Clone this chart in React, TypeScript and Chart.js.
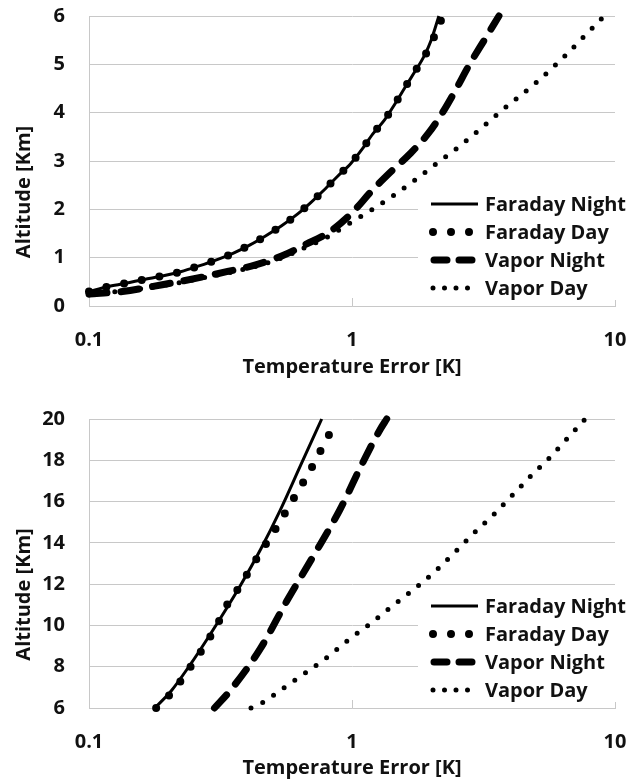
import React, { useEffect, useRef } from 'react';
import { Chart, registerables } from 'chart.js';

Chart.register(...registerables);

const FONT = "'Open Sans', 'DejaVu Sans', sans-serif";
const GRID = '#c8c8c8';
const CLEAR = 'rgba(0,0,0,0)';

const seriesNames = ['Faraday Night', 'Faraday Day', 'Vapor Night', 'Vapor Day'];
const xTickValues = [0.1, 1, 10];
const xTickLabels = ['0.1', '1', '10'];
const xTitle = 'Temperature Error [K]';
const yTitle = 'Altitude [Km]';

// ---- Top panel (0 - 6 km) ----
const topFaradayNightErr = [0.1, 0.1174, 0.138, 0.162, 0.19, 0.223, 0.262, 0.3035, 0.3526, 0.408, 0.469, 0.54, 0.62, 0.697, 0.783, 0.88, 0.99, 1.098, 1.2, 1.33, 1.46, 1.59, 1.73, 1.88, 2.0, 2.14];
const topFaradayNightAlt = [0.3, 0.4, 0.47, 0.55, 0.62, 0.71, 0.83, 0.95, 1.09, 1.26, 1.45, 1.66, 1.9, 2.14, 2.4, 2.68, 2.95, 3.26, 3.56, 3.85, 4.19, 4.52, 4.84, 5.17, 5.5, 6.0];
const topFaradayDayErr = [0.1, 0.1174, 0.138, 0.162, 0.19, 0.223, 0.262, 0.3035, 0.3526, 0.408, 0.469, 0.54, 0.62, 0.697, 0.783, 0.88, 0.99, 1.098, 1.2, 1.33, 1.46, 1.59, 1.73, 1.89, 2.03, 2.17, 2.21];
const topFaradayDayAlt = [0.3, 0.4, 0.47, 0.55, 0.62, 0.71, 0.83, 0.95, 1.09, 1.26, 1.45, 1.66, 1.9, 2.14, 2.4, 2.68, 2.95, 3.26, 3.56, 3.85, 4.19, 4.52, 4.84, 5.17, 5.51, 5.88, 6.0];
const topVaporNightErr = [0.1, 0.134, 0.19, 0.27, 0.34, 0.43, 0.543, 0.67, 0.82, 0.997, 1.188, 1.395, 1.662, 1.95, 2.22, 2.45, 2.8, 3.2, 3.62];
const topVaporNightAlt = [0.25, 0.3, 0.44, 0.6, 0.72, 0.85, 1.04, 1.28, 1.53, 1.92, 2.38, 2.76, 3.15, 3.57, 4.02, 4.42, 5.0, 5.52, 6.0];
const topVaporDayErr = [0.1, 0.19, 0.27, 0.43, 0.543, 0.67, 0.82, 0.98, 1.188, 1.458, 1.76, 2.12, 2.57, 3.1, 3.7, 4.96, 6.5, 7.6, 9.1];
const topVaporDayAlt = [0.23, 0.42, 0.58, 0.82, 1.0, 1.22, 1.45, 1.71, 1.99, 2.31, 2.63, 2.97, 3.31, 3.68, 4.04, 4.6, 5.19, 5.57, 6.0];

// ---- Bottom panel (6 - 20 km) ----
const botFaradayNightErr = [0.178, 0.206, 0.242, 0.29, 0.375, 0.45, 0.532, 0.64, 0.767];
const botFaradayNightAlt = [6, 6.85, 8.08, 9.6, 11.9, 13.7, 15.55, 17.8, 20];
const botFaradayDayErr = [0.18, 0.2, 0.222, 0.2435, 0.2667, 0.2902, 0.3148, 0.3386, 0.3718, 0.4034, 0.4402, 0.4806, 0.5245, 0.5693, 0.6194, 0.6726, 0.7277, 0.7847, 0.849, 0.87];
const botFaradayDayAlt = [6.0, 6.56, 7.27, 8.01, 8.74, 9.49, 10.3, 11.1, 11.83, 12.58, 13.36, 14.12, 14.89, 15.66, 16.45, 17.22, 18.0, 18.82, 19.61, 19.85];
const botVaporNightErr = [0.3, 0.344, 0.447, 0.565, 0.713, 0.9, 1.089, 1.278, 1.355];
const botVaporNightAlt = [6, 6.84, 8.85, 11.18, 13.36, 15.61, 17.79, 19.48, 20];
const botVaporDayErr = [0.413, 0.4535, 0.5511, 0.6685, 0.8128, 0.9766, 1.178, 1.423, 1.73, 2.07, 2.44, 2.89, 3.46, 4.06, 4.77, 5.71, 6.7, 7.7];
const botVaporDayAlt = [6, 6.24, 6.98, 7.72, 8.5, 9.33, 10.1, 10.94, 11.78, 12.62, 13.5, 14.44, 15.37, 16.29, 17.22, 18.19, 19.16, 20];

const zip = (xs: number[], ys: number[]) => xs.map((x, i) => ({ x, y: ys[i] }));

const styles = [
  { borderWidth: 3, borderDash: [] as number[], borderCapStyle: 'butt' },
  { borderWidth: 8, borderDash: [0, 18], borderCapStyle: 'round' },
  { borderWidth: 7, borderDash: [18, 14], borderCapStyle: 'round' },
  { borderWidth: 5, borderDash: [0, 13], borderCapStyle: 'round' },
];

const decorPlugin = {
  id: 'decor',
  afterDraw(chart: any) {
    const { ctx, chartArea } = chart;
    const { right, top, bottom } = chartArea;
    ctx.save();
    // inside tick marks on x axis
    const xs = chart.scales.x;
    ctx.strokeStyle = GRID;
    ctx.lineWidth = 1;
    [1, 10].forEach((v) => {
      const px = Math.round(xs.getPixelForValue(v)) + 0.5;
      ctx.beginPath();
      ctx.moveTo(px, bottom);
      ctx.lineTo(px, bottom - 8);
      ctx.stroke();
    });
    // y title
    ctx.fillStyle = '#111';
    ctx.font = `bold 20px ${FONT}`;
    ctx.textAlign = 'center';
    ctx.textBaseline = 'middle';
    ctx.translate(24, (top + bottom) / 2 + 31);
    ctx.rotate(-Math.PI / 2);
    ctx.fillText(yTitle, 0, 0);
    ctx.restore();

    // legend
    ctx.save();
    ctx.fillStyle = '#ffffff';
    ctx.fillRect(right - 197, bottom - 114, 220, 108);
    const x0 = right - 184;
    const tx = right - 130;
    const rows = [bottom - 102, bottom - 74, bottom - 46, bottom - 18];
    ctx.strokeStyle = '#000';
    // Faraday Night
    ctx.lineWidth = 3;
    ctx.setLineDash([]);
    ctx.lineCap = 'butt';
    ctx.beginPath();
    ctx.moveTo(x0, rows[0]);
    ctx.lineTo(x0 + 47, rows[0]);
    ctx.stroke();
    // Faraday Day
    ctx.lineWidth = 8;
    ctx.lineCap = 'round';
    ctx.setLineDash([0, 18]);
    ctx.beginPath();
    ctx.moveTo(x0 + 2, rows[1]);
    ctx.lineTo(x0 + 40, rows[1]);
    ctx.stroke();
    // Vapor Night
    ctx.lineWidth = 7;
    ctx.setLineDash([13, 12]);
    ctx.beginPath();
    ctx.moveTo(x0 + 3, rows[2]);
    ctx.lineTo(x0 + 44, rows[2]);
    ctx.stroke();
    // Vapor Day
    ctx.lineWidth = 5;
    ctx.setLineDash([0, 11.5]);
    ctx.beginPath();
    ctx.moveTo(x0 + 2, rows[3]);
    ctx.lineTo(x0 + 40, rows[3]);
    ctx.stroke();
    ctx.setLineDash([]);
    ctx.fillStyle = '#111';
    ctx.font = `bold 20px ${FONT}`;
    ctx.textAlign = 'left';
    ctx.textBaseline = 'middle';
    seriesNames.forEach((n, i) => ctx.fillText(n, tx, rows[i] + 1));
    ctx.restore();
  },
};

function makeConfig(series: { x: number; y: number }[][], yMin: number, yMax: number, step: number, padTop: number, xHeight: number, titlePadBottom: number) {
  return {
    type: 'scatter',
    data: {
      datasets: series.map((pts, i) => ({
        label: seriesNames[i],
        data: pts,
        showLine: true,
        pointRadius: 0,
        borderColor: '#000',
        backgroundColor: '#000',
        cubicInterpolationMode: 'monotone',
        borderWidth: styles[i].borderWidth,
        borderDash: styles[i].borderDash,
        borderCapStyle: styles[i].borderCapStyle,
        borderJoinStyle: 'round',
        clip: 6,
      })),
    },
    options: {
      animation: false,
      responsive: false,
      devicePixelRatio: 1,
      layout: { padding: { top: padTop, right: 22, left: 0, bottom: 0 } },
      plugins: { legend: { display: false }, tooltip: { enabled: false } },
      scales: {
        x: {
          type: 'logarithmic',
          min: 0.1,
          max: 10,
          afterBuildTicks: (axis: any) => {
            axis.ticks = xTickValues.map((v) => ({ value: v }));
          },
          afterFit: (axis: any) => {
            axis.height = xHeight;
          },
          grid: { display: true, drawOnChartArea: false, drawTicks: true, tickLength: 22, tickColor: CLEAR, color: CLEAR },
          border: { display: true, color: GRID, width: 1 },
          ticks: {
            padding: 0,
            color: '#111',
            font: { family: FONT, size: 20, weight: 'bold' },
            callback: (v: number) => {
              const i = xTickValues.findIndex((t) => Math.abs(t - v) < 1e-9);
              return i >= 0 ? xTickLabels[i] : '';
            },
            maxRotation: 0,
            autoSkip: false,
          },
          title: {
            display: true,
            text: xTitle,
            color: '#111',
            font: { family: FONT, size: 20, weight: 'bold' },
            padding: { top: 0, bottom: titlePadBottom },
          },
        },
        y: {
          type: 'linear',
          min: yMin,
          max: yMax,
          afterFit: (axis: any) => {
            axis.width = 89;
          },
          grid: { color: GRID, lineWidth: 1, drawTicks: true, tickLength: 24, tickColor: CLEAR },
          border: { display: true, color: GRID, width: 1 },
          ticks: {
            stepSize: step,
            padding: 0,
            color: '#111',
            font: { family: FONT, size: 20, weight: 'bold' },
          },
        },
      },
    },
    plugins: [decorPlugin],
  };
}

function Panel({ config }: { config: any }) {
  const ref = useRef<HTMLCanvasElement | null>(null);
  useEffect(() => {
    if (!ref.current) return;
    const chart = new Chart(ref.current, config);
    return () => chart.destroy();
  }, [config]);
  return <canvas ref={ref} width={637} height={391} style={{ display: 'block', width: 637, height: 391 }} />;
}

const topConfig = makeConfig(
  [
    zip(topFaradayNightErr, topFaradayNightAlt),
    zip(topFaradayDayErr, topFaradayDayAlt),
    zip(topVaporNightErr, topVaporNightAlt),
    zip(topVaporDayErr, topVaporDayAlt),
  ],
  0, 6, 1, 16, 85, 12
);

const bottomConfig = makeConfig(
  [
    zip(botFaradayNightErr, botFaradayNightAlt),
    zip(botFaradayDayErr, botFaradayDayAlt),
    zip(botVaporNightErr, botVaporNightAlt),
    zip(botVaporDayErr, botVaporDayAlt),
  ],
  6, 20, 2, 28, 74, 2
);

export default function App() {
  return (
    <div style={{ position: 'absolute', left: 0, top: 0, width: 637, height: 782, background: '#fff' }}>
      <Panel config={topConfig} />
      <Panel config={bottomConfig} />
    </div>
  );
}
